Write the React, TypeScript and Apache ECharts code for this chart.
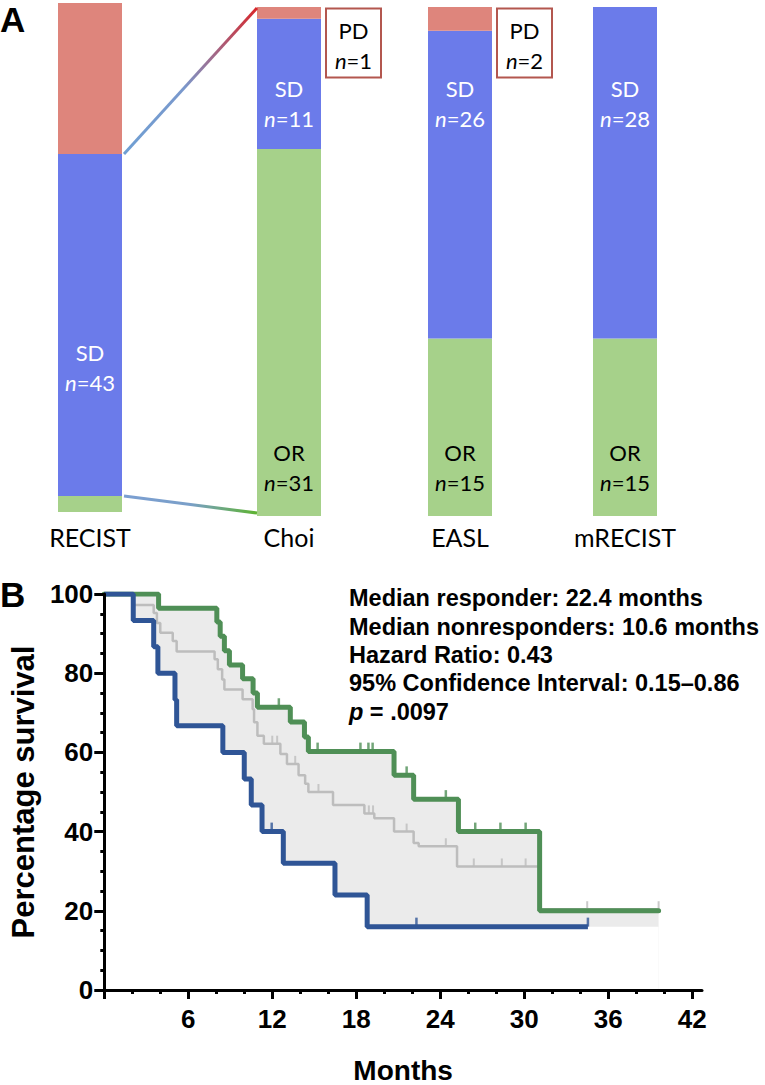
import React, { useEffect, useRef } from "react";
import * as echarts from "echarts";

// ---------- Panel A data ----------
const methods = ["RECIST", "Choi", "EASL", "mRECIST"];
const orCounts = [2, 31, 15, 15];
const sdCounts = [43, 11, 26, 28];
const pdCounts = [19, 1, 2, 0];

// ---------- Panel B data ----------
const xTickLabels = [6, 12, 18, 24, 30, 36, 42];
const xMajorTicks = [0, 6, 12, 18, 24, 30, 36, 42];
const xMinorTicks = [2, 4, 8, 10, 14, 16, 20, 22, 26, 28, 32, 34, 38, 40];

const nonresponders: [number, number][] = [
  [0, 100], [2.07, 93.3], [3.53, 86.7], [3.83, 80], [5.05, 73.3], [5.17, 66.7],
  [8.47, 60], [10.0, 53.3], [10.5, 46.7], [11.27, 40], [12.79, 32], [16.48, 24],
  [18.78, 16], [34.55, 16],
];
const responders: [number, number][] = [
  [0, 100], [3.88, 96.4], [8.04, 92.9], [8.28, 89.3], [8.58, 85.7], [8.94, 82.1],
  [9.88, 78.6], [10.63, 75], [10.94, 71.4], [13.29, 67.7], [14.3, 63.9], [14.58, 60.2],
  [20.7, 54.2], [22.1, 48.2], [25.3, 40], [31.1, 20], [39.6, 20],
];
const allPatients: [number, number][] = [
  [0, 100], [2.07, 97.2], [3.53, 95.2], [3.76, 92.7], [4.0, 90.2], [4.89, 88.1],
  [5.17, 85.5], [7.88, 83.5], [8.11, 81.0], [8.42, 78.4], [8.58, 75.9], [9.88, 73.4],
  [10.6, 70.9], [10.7, 67.6], [10.94, 64.2], [11.4, 62.2], [12.58, 59.6], [13.05, 57.1],
  [13.88, 54.2], [14.35, 52.1], [14.58, 50.0], [16.34, 46.7], [18.58, 44.6], [19.29, 43.4],
  [20.7, 40.0], [22.1, 37.1], [22.46, 36.3], [25.2, 31.2], [31.1, 20.4], [39.6, 20.4],
];
const nonresponderCensored: [number, number][] = [[11.96, 40], [22.3, 16], [34.55, 16]];
const responderCensored: [number, number][] = [
  [12.47, 71.4], [15.24, 60.2], [18.3, 60.2], [18.87, 60.2], [19.17, 60.2],
  [21.6, 54.2], [24.4, 48.2], [26.5, 40], [28.3, 40], [30.1, 40],
];
const allCensored: [number, number][] = [
  [12.0, 62.2], [12.35, 62.2], [13.64, 57.1], [15.3, 50.0], [18.9, 44.6], [19.2, 44.6],
  [21.6, 40], [24.4, 36.3], [26.4, 31.2], [28.4, 31.2], [30.1, 31.2], [34.5, 20.4], [39.6, 20.4],
];

const statsLines = [
  "Median responder: 22.4 months",
  "Median nonresponders: 10.6 months",
  "Hazard Ratio: 0.43",
  "95% Confidence Interval: 0.15\u20130.86",
];
const pValue = ".0097";

// ---------- styles ----------
const C_OR = "#a6d18a";
const C_SD = "#6b7bea";
const C_PD = "#de857c";
const C_BLUE = "#2f5596";
const C_GREEN = "#4f8f56";
const C_GREY = "#bdbdbd";
const C_BAND = "#ebebeb";
const ARIAL = "'Liberation Sans', Arial, Helvetica, sans-serif";
const CAL = "Lato, 'Open Sans', sans-serif";

const barGrids = [
  { left: 58, top: 3, width: 64, height: 509 },
  { left: 257, top: 7, width: 64, height: 509 },
  { left: 428, top: 7, width: 64, height: 509 },
  { left: 593, top: 7, width: 64, height: 509 },
];
const catLabelMargin = [12, 8, 8, 8];
const sdLabelY = [352, 88, 88, 88];
const orLabelY = [null, 452, 452, 452];

export default function App() {
  const ref = useRef<HTMLDivElement>(null);
  useEffect(() => {
    document.body.style.margin = "0";
    const chart = echarts.init(ref.current!, null, { renderer: "svg" });

    const grids: any[] = barGrids.map((g) => ({ ...g }));
    grids.push({ left: 97, right: 63, top: 594, bottom: 92 });

    const xAxes: any[] = methods.map((m, i) => ({
      type: "category",
      gridIndex: i,
      data: [m],
      axisLine: { show: false },
      axisTick: { show: false },
      axisLabel: { fontSize: 25, fontFamily: CAL, color: "#000", margin: catLabelMargin[i] },
    }));
    xAxes.push({
      type: "value",
      gridIndex: 4,
      min: 0,
      max: 42.7,
      z: 10,
      axisLine: { show: true, lineStyle: { color: "#000", width: 3 } },
      axisTick: { show: true, customValues: xMajorTicks, length: 9, lineStyle: { color: "#000", width: 3 } },
      axisLabel: {
        customValues: xTickLabels,
        fontSize: 26,
        fontWeight: "bold",
        fontFamily: ARIAL,
        color: "#000",
        margin: 16,
      },
      splitLine: { show: false },
      name: "Months",
      nameLocation: "middle",
      nameGap: 66,
      nameTextStyle: { fontSize: 28, fontWeight: "bold", fontFamily: ARIAL, color: "#000" },
    });
    xAxes.push({
      type: "value",
      gridIndex: 4,
      min: 0,
      max: 42.7,
      position: "bottom",
      z: 10,
      axisLine: { show: false },
      axisTick: { show: true, customValues: xMinorTicks, length: 4, lineStyle: { color: "#000", width: 3 } },
      axisLabel: { show: false },
      splitLine: { show: false },
    });

    const yAxes: any[] = methods.map((_, i) => ({
      type: "value",
      gridIndex: i,
      min: 0,
      max: 100,
      show: false,
    }));
    yAxes.push({
      type: "value",
      gridIndex: 4,
      min: 0,
      max: 100,
      interval: 20,
      z: 10,
      axisLine: { show: true, lineStyle: { color: "#000", width: 3 } },
      axisTick: { show: true, length: 10, lineStyle: { color: "#000", width: 3 } },
      minorTick: { show: true, splitNumber: 4, length: 4, lineStyle: { color: "#000", width: 3 } },
      axisLabel: { fontSize: 26, fontWeight: "bold", fontFamily: ARIAL, color: "#000", margin: 11 },
      splitLine: { show: false },
      minorSplitLine: { show: false },
      name: "Percentage survival",
      nameLocation: "middle",
      nameGap: 65,
      nameTextStyle: { fontSize: 31, fontWeight: "bold", fontFamily: ARIAL, color: "#000" },
    });

    const series: any[] = [];
    methods.forEach((_, i) => {
      const total = orCounts[i] + sdCounts[i] + pdCounts[i];
      const parts: [number[], string][] = [
        [orCounts, C_OR],
        [sdCounts, C_SD],
        [pdCounts, C_PD],
      ];
      parts.forEach(([arr, color]) => {
        series.push({
          type: "bar",
          xAxisIndex: i,
          yAxisIndex: i,
          stack: "s" + i,
          barWidth: "100%",
          data: [(arr[i] / total) * 100],
          itemStyle: { color },
          silent: true,
        });
      });
    });

    const km = (data: [number, number][], color: string, width: number, z: number) => ({
      type: "line",
      xAxisIndex: 4,
      yAxisIndex: 4,
      step: "end",
      symbol: "none",
      data,
      z,
      lineStyle: { color, width },
      silent: true,
    });
    series.push({
      type: "line",
      xAxisIndex: 4,
      yAxisIndex: 4,
      step: "end",
      symbol: "none",
      data: responders,
      z: 1,
      lineStyle: { width: 0, opacity: 0 },
      areaStyle: { color: C_BAND, opacity: 1 },
      silent: true,
    });
    const lastT = responders[responders.length - 1][0];
    const lastS = nonresponders[nonresponders.length - 1][1];
    series.push({
      type: "line",
      xAxisIndex: 4,
      yAxisIndex: 4,
      step: "end",
      symbol: "none",
      data: [...nonresponders, [lastT, lastS]],
      z: 1,
      lineStyle: { width: 0, opacity: 0 },
      areaStyle: { color: "#ffffff", opacity: 1 },
      silent: true,
    });
    series.push(km(allPatients, C_GREY, 2.5, 3));
    const greenLine: any = km(responders, C_GREEN, 5, 4);
    greenLine.lineStyle.cap = "round";
    series.push(greenLine);
    series.push(km(nonresponders, C_BLUE, 5, 5));
    const cens = (data: [number, number][], color: string, w: number, h: number, z: number) => ({
      type: "scatter",
      xAxisIndex: 4,
      yAxisIndex: 4,
      data,
      symbol: "rect",
      symbolSize: [w, h],
      symbolOffset: [0, -h / 2],
      itemStyle: { color },
      z,
      silent: true,
    });
    series.push(cens(allCensored, C_GREY, 2, 8, 3));
    series.push(cens(responderCensored, C_GREEN, 2.5, 9, 4));
    series.push(cens(nonresponderCensored, C_BLUE, 2.5, 9, 5));

    chart.setOption({
      animation: false,
      backgroundColor: "#fff",
      grid: grids,
      xAxis: xAxes,
      yAxis: yAxes,
      series,
    });

    // ---- graphics computed from the chart's own scales ----
    const pt = (gi: number, v: number) =>
      chart.convertToPixel({ gridIndex: gi } as any, [0, v]) as number[];
    const half = barGrids[0].width / 2;
    const graphics: any[] = [];

    const richStyle = (color: string) => ({
      r: { fontSize: 22, fontFamily: CAL, fill: color },
      i: { fontSize: 22, fontFamily: CAL, fontStyle: "italic", fill: color },
    });
    const twoLine = (cx: number, y: number, head: string, n: number, color: string) => {
      graphics.push({
        type: "text",
        x: cx,
        y,
        z: 20,
        style: { text: head, fontSize: 22, fontFamily: CAL, fill: color, align: "center", verticalAlign: "middle" },
      });
      graphics.push({
        type: "text",
        x: cx,
        y: y + 30,
        z: 20,
        style: {
          text: `{i|n}{r|=${n}}`,
          rich: richStyle(color),
          fill: color,
          align: "center",
          verticalAlign: "middle",
        },
      });
    };

    methods.forEach((_, i) => {
      const cx = pt(i, 0)[0];
      if (sdCounts[i] > 0) twoLine(cx, sdLabelY[i], "SD", sdCounts[i], "#fff");
      const oy = orLabelY[i];
      if (oy != null && orCounts[i] > 0) twoLine(cx, oy, "OR", orCounts[i], "#000");
      if (i > 0 && pdCounts[i] > 0) {
        const top = pt(i, 100)[1];
        const bx = cx + half + 5;
        graphics.push({
          type: "rect",
          z: 20,
          shape: { x: bx, y: top + 1.5, width: 55, height: 69 },
          style: { fill: "#fff", stroke: "#b3574f", lineWidth: 2 },
        });
        twoLine(bx + 27.5, top + 23.5, "PD", pdCounts[i], "#000");
      }
    });

    // connecting lines RECIST SD segment -> Choi bar
    const r0 = orCounts[0] + sdCounts[0] + pdCounts[0];
    const recistSdTop = pt(0, ((orCounts[0] + sdCounts[0]) / r0) * 100);
    const recistSdBottom = pt(0, (orCounts[0] / r0) * 100);
    const choiTop = pt(1, 100);
    const choiBottom = pt(1, 0);
    graphics.push({
      type: "line",
      z: 20,
      shape: { x1: recistSdTop[0] + half + 2, y1: recistSdTop[1], x2: choiTop[0] - half, y2: choiTop[1] + 1 },
      style: {
        lineWidth: 3,
        stroke: new echarts.graphic.LinearGradient(0, 1, 1, 0, [
          { offset: 0, color: "#6f9fd3" },
          { offset: 0.45, color: "#7a98cc" },
          { offset: 1, color: "#d8262a" },
        ]),
      },
    });
    graphics.push({
      type: "line",
      z: 20,
      shape: { x1: recistSdBottom[0] + half + 2, y1: recistSdBottom[1], x2: choiBottom[0] - half, y2: choiBottom[1] - 3 },
      style: {
        lineWidth: 3,
        stroke: new echarts.graphic.LinearGradient(0, 0, 1, 0, [
          { offset: 0, color: "#7b9fd2" },
          { offset: 0.5, color: "#7a9fc8" },
          { offset: 1, color: "#5db330" },
        ]),
      },
    });

    // panel letters
    graphics.push({
      type: "text",
      left: 0,
      top: 2,
      z: 20,
      style: { text: "A", fontSize: 35, fontWeight: "bold", fontFamily: ARIAL, fill: "#000" },
    });
    graphics.push({
      type: "text",
      left: 0,
      top: 577,
      z: 20,
      style: { text: "B", fontSize: 35, fontWeight: "bold", fontFamily: ARIAL, fill: "#000" },
    });

    // stats text
    const statY = [598, 627, 655, 683, 712];
    statsLines.forEach((t, k) => {
      graphics.push({
        type: "text",
        x: 349,
        y: statY[k],
        z: 20,
        style: {
          text: t,
          fontSize: 23.5,
          fontWeight: "bold",
          fontFamily: ARIAL,
          fill: "#000",
          verticalAlign: "middle",
        },
      });
    });
    graphics.push({
      type: "text",
      x: 349,
      y: statY[4],
      z: 20,
      style: {
        text: `{i|p}{b| = ${pValue}}`,
        rich: {
          i: { fontSize: 23.5, fontWeight: "bold", fontStyle: "italic", fontFamily: ARIAL, fill: "#000" },
          b: { fontSize: 23.5, fontWeight: "bold", fontFamily: ARIAL, fill: "#000" },
        },
        verticalAlign: "middle",
      },
    });

    chart.setOption({ graphic: graphics });

    return () => chart.dispose();
  }, []);

  return (
    <div
      ref={ref}
      style={{ position: "absolute", left: 0, top: 0, width: 765, height: 1085, background: "#fff" }}
    />
  );
}
